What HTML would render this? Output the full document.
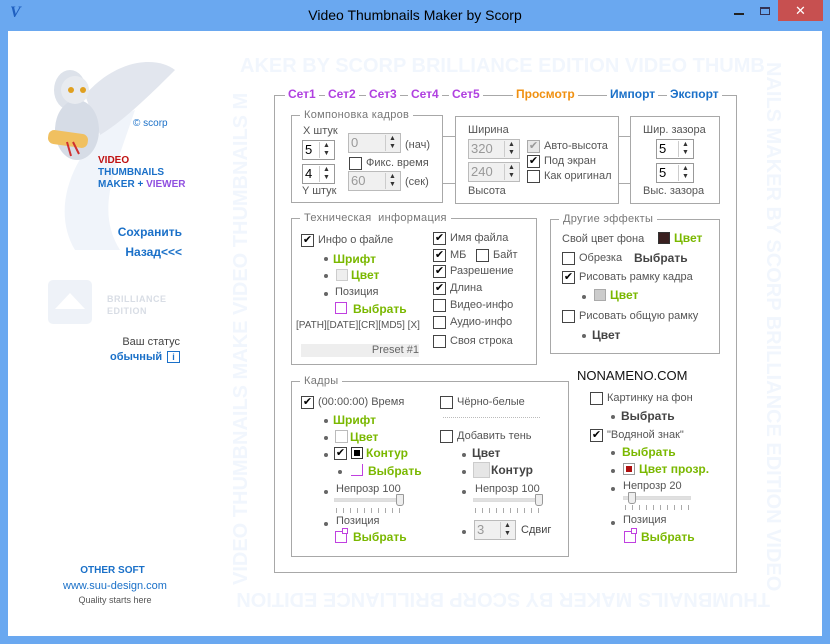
<!DOCTYPE html>
<html><head><meta charset="utf-8"><style>
*{margin:0;padding:0;box-sizing:border-box}
body{width:830px;height:644px;position:relative;overflow:hidden;background:#6aa8f0;font-family:"Liberation Sans","DejaVu Sans",sans-serif;font-size:11px;color:#555}
.a{position:absolute;white-space:nowrap}
#client{position:absolute;left:8px;top:31px;width:814px;height:605px;background:#fff}
.box{position:absolute;border:1px solid #a8a8a8}
.lg{position:absolute;background:#fff;padding:0 4px;color:#777;font-size:11px;top:-7px;left:8px;letter-spacing:.3px}
.cb{position:absolute;width:13px;height:13px;border:1px solid #444;background:#fff;font-size:11px;line-height:11px;text-align:center;color:#000;font-weight:bold}
.cbd{border-color:#aaa;background:#e8e8e8;color:#999}
.sp{position:absolute;height:20px;border:1px solid #999;background:#fff;font-size:13px;color:#000;padding-left:2px;line-height:18px}
.sp.d{background:#f0f0f0;border-color:#bbb;color:#999}
.sp i{position:absolute;right:1px;top:1px;width:14px;height:16px;border-left:1px solid #ccc;font-style:normal;font-size:7px;line-height:8px;text-align:center;color:#333}
.g{color:#7ab800;font-weight:bold;font-size:12px}
.dk{color:#444;font-weight:bold;font-size:12px}
.b{position:absolute;width:4px;height:4px;border-radius:50%;background:#666}
.pi{position:absolute;width:12px;height:12px;border:1px solid #c040e0}
.tab{font-weight:bold;font-size:12px}
.wm{position:absolute;color:#f1f6fd;font-weight:bold;font-size:20px;white-space:nowrap}
.sl{position:absolute;height:4px;background:#e0e0e0;border:1px solid #ddd}
.tk{position:absolute;height:5px;background:repeating-linear-gradient(90deg,#aaa 0 1px,transparent 1px 7px)}
.th{position:absolute;width:8px;height:12px;background:#eee;border:1px solid #999;border-radius:1px 1px 3px 3px}
</style></head><body>
<div class="a" style="left:10px;top:4px;color:#2060c0;font:italic bold 16px 'Liberation Serif',serif">V</div>
<div class="a" style="left:0;width:830px;top:7px;text-align:center;font-size:14px;color:#000">Video Thumbnails Maker by Scorp</div>
<div class="a" style="left:734px;top:13px;width:10px;height:2px;background:#222"></div>
<div class="a" style="left:760px;top:7px;width:10px;height:8px;border:1px solid #335;border-top-width:2px"></div>
<div class="a" style="left:778px;top:0;width:45px;height:21px;background:#c75050;color:#fff;text-align:center;font-size:13px;font-weight:bold;line-height:21px">✕</div>
<div id="client"></div>
<div class="wm" style="left:240px;top:55px">AKER BY SCORP BRILLIANCE EDITION VIDEO THUMB</div>
<div class="wm" style="left:240px;top:588px;transform:rotate(180deg);transform-origin:265px 11px">THUMBNAILS MAKER BY SCORP BRILLIANCE EDITION</div>
<div class="wm" style="left:230px;top:585px;transform:rotate(-90deg);transform-origin:0 0">VIDEO THUMBNAILS MAKE VIDEO THUMBNAILS M</div>
<div class="wm" style="left:784px;top:62px;transform:rotate(90deg);transform-origin:0 0">NAILS MAKER BY SCORP BRILLIANCE EDITION VIDEO</div>
<svg class="a" style="left:25px;top:50px" width="150" height="200"><path d="M50 200 C20 150 60 80 110 60 C90 120 70 160 95 200Z" fill="#f0f4fa"/><ellipse cx="45" cy="40" rx="16" ry="20" fill="#dde2ea"/><path d="M60 45 C90 10 130 5 150 20 C130 40 100 70 75 85Z" fill="#e2e6ee"/><ellipse cx="52" cy="80" rx="22" ry="30" fill="#d6dce6"/><circle cx="50" cy="40" r="14" fill="#e8ebf0"/><circle cx="46" cy="40" r="3" fill="#e0a020"/><circle cx="58" cy="40" r="3" fill="#e0a020"/><rect x="23" y="82" width="40" height="14" rx="6" fill="#f0c060" transform="rotate(8 43 89)"/><path d="M42 92 l4 14 M48 92 l6 12" stroke="#d03030" stroke-width="2"/></svg>
<div class="a" style="left:133px;top:118px;color:#1a70c8;font-size:10px">© scorp</div>
<div class="a" style="left:98px;top:155px;font-size:10px;font-weight:bold;line-height:12px"><span style="color:#c01010">VIDEO</span><br><span style="color:#1a70c8">THUMBNAILS</span><br><span style="color:#1a70c8">MAKER + </span><span style="color:#9050e0">VIEWER</span></div>
<div class="a" style="left:100px;top:225px;width:82px;text-align:right;color:#1a70c8;font-weight:bold;font-size:12px">Сохранить</div>
<div class="a" style="left:100px;top:245px;width:82px;text-align:right;color:#1a70c8;font-weight:bold;font-size:12px">Назад&lt;&lt;&lt;</div>
<div class="a" style="left:48px;top:280px;width:44px;height:44px;background:#eef2f8;border-radius:5px"></div>
<div class="a" style="left:55px;top:293px;width:0;height:0;border-left:15px solid transparent;border-right:15px solid transparent;border-bottom:16px solid #fff"></div>
<div class="a" style="left:107px;top:293px;color:#d8dde5;font-weight:bold;font-size:9px;line-height:12px;letter-spacing:.5px">BRILLIANCE<br>EDITION</div>
<div class="a" style="left:100px;top:336px;width:80px;text-align:right;color:#444;font-size:11px">Ваш статус</div>
<div class="a" style="left:110px;top:351px;color:#1a70c8;font-weight:bold;font-size:11px">обычный</div>
<div class="a" style="left:167px;top:351px;width:13px;height:12px;border:1px solid #1a70c8;color:#1a70c8;font-size:9px;font-weight:bold;text-align:center;line-height:10px">i</div>
<div class="a" style="left:0;width:225px;top:565px;text-align:center;color:#1a70c8;font-weight:bold;font-size:10px">OTHER SOFT</div>
<div class="a" style="left:0;width:230px;top:580px;text-align:center;color:#1a70c8;font-size:11px">www.suu-design.com</div>
<div class="a" style="left:0;width:230px;top:595px;text-align:center;color:#555;font-size:9px">Quality starts here</div>
<div class="box" style="left:274px;top:95px;width:463px;height:478px"></div>
<div class="a tab" style="left:285px;top:87px;background:#fff;padding:0 3px;color:#b040e0">Сет1</div>
<div class="a tab" style="left:325px;top:87px;background:#fff;padding:0 3px;color:#b040e0">Сет2</div>
<div class="a tab" style="left:366px;top:87px;background:#fff;padding:0 3px;color:#b040e0">Сет3</div>
<div class="a tab" style="left:408px;top:87px;background:#fff;padding:0 3px;color:#b040e0">Сет4</div>
<div class="a tab" style="left:449px;top:87px;background:#fff;padding:0 3px;color:#b040e0">Сет5</div>
<div class="a tab" style="left:513px;top:87px;background:#fff;padding:0 3px;color:#f09010">Просмотр</div>
<div class="a tab" style="left:607px;top:87px;background:#fff;padding:0 3px;color:#1a70c8">Импорт</div>
<div class="a tab" style="left:667px;top:87px;background:#fff;padding:0 3px;color:#1a70c8">Экспорт</div>
<div class="a" style="left:442px;top:136px;width:13px;border-top:1px solid #aaa"></div>
<div class="a" style="left:442px;top:183px;width:13px;border-top:1px solid #aaa"></div>
<div class="a" style="left:618px;top:136px;width:12px;border-top:1px solid #aaa"></div>
<div class="a" style="left:618px;top:183px;width:12px;border-top:1px solid #aaa"></div>
<div class="box" style="left:291px;top:115px;width:152px;height:88px"><div class="lg">Компоновка кадров</div></div>
<div class="a" style="left:303px;top:125px">X штук</div>
<div class="sp" style="left:302px;top:140px;width:33px">5<i>▲<br>▼</i></div>
<div class="sp" style="left:302px;top:164px;width:33px">4<i>▲<br>▼</i></div>
<div class="a" style="left:302px;top:185px">Y штук</div>
<div class="sp d" style="left:348px;top:133px;width:53px">0<i>▲<br>▼</i></div>
<div class="a" style="left:405px;top:139px">(нач)</div>
<div class="cb" style="left:349px;top:157px"></div><div class="a" style="left:366px;top:157px">Фикс. время</div>
<div class="sp d" style="left:348px;top:171px;width:53px">60<i>▲<br>▼</i></div>
<div class="a" style="left:405px;top:176px">(сек)</div>
<div class="box" style="left:455px;top:116px;width:164px;height:88px"></div>
<div class="a" style="left:468px;top:124px">Ширина</div>
<div class="sp d" style="left:468px;top:139px;width:52px">320<i>▲<br>▼</i></div>
<div class="sp d" style="left:468px;top:162px;width:52px">240<i>▲<br>▼</i></div>
<div class="a" style="left:468px;top:185px">Высота</div>
<div class="cb cbd" style="left:527px;top:140px">✔</div><div class="a" style="left:544px;top:140px">Авто-высота</div>
<div class="cb" style="left:527px;top:155px">✔</div><div class="a" style="left:544px;top:155px">Под экран</div>
<div class="cb" style="left:527px;top:170px"></div><div class="a" style="left:544px;top:170px">Как оригинал</div>
<div class="box" style="left:630px;top:116px;width:90px;height:88px"></div>
<div class="a" style="left:643px;top:124px">Шир. зазора</div>
<div class="sp" style="left:656px;top:139px;width:38px">5<i>▲<br>▼</i></div>
<div class="sp" style="left:656px;top:163px;width:38px">5<i>▲<br>▼</i></div>
<div class="a" style="left:643px;top:185px">Выс. зазора</div>
<div class="box" style="left:291px;top:218px;width:246px;height:147px"><div class="lg">Техническая &nbsp;информация</div></div>
<div class="cb" style="left:301px;top:234px">✔</div><div class="a" style="left:318px;top:234px">Инфо о файле</div>
<div class="b" style="left:324px;top:257px"></div><div class="a g" style="left:333px;top:252px">Шрифт</div>
<div class="b" style="left:324px;top:274px"></div><div class="a" style="left:336px;top:269px;width:12px;height:12px;border:1px solid #ccc;background:#eee"></div><div class="a g" style="left:351px;top:268px">Цвет</div>
<div class="b" style="left:324px;top:292px"></div><div class="a" style="left:335px;top:286px">Позиция</div>
<div class="pi" style="left:335px;top:302px"></div><div class="a g" style="left:353px;top:302px">Выбрать</div>
<div class="a" style="left:296px;top:320px;font-size:10px">[PATH][DATE][CR][MD5] [X]</div>
<div class="a" style="left:301px;top:344px;width:118px;height:13px;background:#eee;text-align:right;font-size:11px;color:#666;line-height:13px">Preset #1</div>
<div class="cb" style="left:433px;top:232px">✔</div><div class="a" style="left:450px;top:232px">Имя файла</div>
<div class="cb" style="left:433px;top:249px">✔</div><div class="a" style="left:450px;top:249px">МБ</div>
<div class="cb" style="left:476px;top:249px"></div><div class="a" style="left:493px;top:249px">Байт</div>
<div class="cb" style="left:433px;top:265px">✔</div><div class="a" style="left:450px;top:265px">Разрешение</div>
<div class="cb" style="left:433px;top:282px">✔</div><div class="a" style="left:450px;top:282px">Длина</div>
<div class="cb" style="left:433px;top:299px"></div><div class="a" style="left:450px;top:299px">Видео-инфо</div>
<div class="cb" style="left:433px;top:316px"></div><div class="a" style="left:450px;top:316px">Аудио-инфо</div>
<div class="cb" style="left:433px;top:335px"></div><div class="a" style="left:450px;top:335px">Своя строка</div>
<div class="box" style="left:550px;top:219px;width:170px;height:135px"><div class="lg">Другие эффекты</div></div>
<div class="a" style="left:562px;top:233px">Свой цвет фона</div>
<div class="a" style="left:658px;top:232px;width:12px;height:12px;border:1px solid #333;background:#3a2020"></div><div class="a g" style="left:674px;top:231px">Цвет</div>
<div class="cb" style="left:562px;top:252px"></div><div class="a" style="left:579px;top:252px">Обрезка</div><div class="a dk" style="left:634px;top:251px">Выбрать</div>
<div class="cb" style="left:562px;top:271px">✔</div><div class="a" style="left:579px;top:271px">Рисовать рамку кадра</div>
<div class="b" style="left:582px;top:295px"></div><div class="a" style="left:594px;top:289px;width:12px;height:12px;border:1px solid #aaa;background:#ccc"></div><div class="a g" style="left:610px;top:288px">Цвет</div>
<div class="cb" style="left:562px;top:310px"></div><div class="a" style="left:579px;top:310px">Рисовать общую рамку</div>
<div class="b" style="left:582px;top:334px"></div><div class="a dk" style="left:592px;top:328px">Цвет</div>
<div class="box" style="left:291px;top:381px;width:278px;height:176px"><div class="lg">Кадры</div></div>
<div class="cb" style="left:301px;top:396px">✔</div><div class="a" style="left:318px;top:396px">(00:00:00) Время</div>
<div class="b" style="left:324px;top:419px"></div><div class="a g" style="left:333px;top:413px">Шрифт</div>
<div class="b" style="left:324px;top:436px"></div><div class="a" style="left:335px;top:430px;width:13px;height:13px;border:1px solid #bbb"></div><div class="a g" style="left:350px;top:430px">Цвет</div>
<div class="b" style="left:324px;top:453px"></div><div class="cb" style="left:334px;top:447px">✔</div><div class="a" style="left:351px;top:447px;width:12px;height:12px;border:1px solid #333;background:#000;box-shadow:inset 0 0 0 2px #fff"></div><div class="a g" style="left:366px;top:446px">Контур</div>
<div class="b" style="left:338px;top:470px"></div><div class="a" style="left:351px;top:464px;width:12px;height:12px;border-right:1px solid #c040e0;border-bottom:1px solid #c040e0"></div><div class="a g" style="left:368px;top:464px">Выбрать</div>
<div class="b" style="left:324px;top:490px"></div><div class="a" style="left:336px;top:483px">Непрозр 100</div>
<div class="sl" style="left:334px;top:498px;width:68px"></div><div class="th" style="left:396px;top:494px"></div>
<div class="tk" style="left:336px;top:508px;width:66px"></div>
<div class="b" style="left:324px;top:522px"></div><div class="a" style="left:336px;top:515px">Позиция</div>
<div class="pi" style="left:335px;top:531px"></div><div class="a" style="left:342px;top:528px;width:6px;height:6px;border:1px solid #c040e0;background:#fff"></div><div class="a g" style="left:353px;top:530px">Выбрать</div>
<div class="cb" style="left:440px;top:396px"></div><div class="a" style="left:457px;top:396px">Чёрно-белые</div>
<div class="a" style="left:443px;top:417px;width:97px;border-top:1px dotted #bbb"></div>
<div class="cb" style="left:440px;top:430px"></div><div class="a" style="left:457px;top:430px">Добавить тень</div>
<div class="b" style="left:462px;top:453px"></div><div class="a dk" style="left:472px;top:446px">Цвет</div>
<div class="b" style="left:462px;top:470px"></div><div class="a" style="left:473px;top:462px;width:17px;height:16px;border:1px solid #ccc;background:#e6e6e6"></div><div class="a dk" style="left:491px;top:463px">Контур</div>
<div class="b" style="left:462px;top:490px"></div><div class="a" style="left:475px;top:483px">Непрозр 100</div>
<div class="sl" style="left:473px;top:498px;width:69px"></div><div class="th" style="left:535px;top:494px"></div>
<div class="tk" style="left:475px;top:508px;width:67px"></div>
<div class="b" style="left:462px;top:530px"></div>
<div class="sp d" style="left:474px;top:520px;width:42px">3<i>▲<br>▼</i></div>
<div class="a" style="left:521px;top:524px;color:#444">Сдвиг</div>
<div class="a" style="left:577px;top:368px;font-size:13px;color:#111">NONAMENO.COM</div>
<div class="cb" style="left:590px;top:392px"></div><div class="a" style="left:607px;top:392px">Картинку на фон</div>
<div class="b" style="left:611px;top:415px"></div><div class="a dk" style="left:621px;top:409px">Выбрать</div>
<div class="cb" style="left:590px;top:429px">✔</div><div class="a" style="left:607px;top:429px">"Водяной знак"</div>
<div class="b" style="left:611px;top:451px"></div><div class="a g" style="left:622px;top:445px">Выбрать</div>
<div class="b" style="left:611px;top:469px"></div><div class="a" style="left:623px;top:463px;width:12px;height:12px;border:1px solid #999;background:#b01010;box-shadow:inset 0 0 0 2px #fff"></div><div class="a g" style="left:639px;top:462px">Цвет прозр.</div>
<div class="b" style="left:611px;top:487px"></div><div class="a" style="left:623px;top:480px">Непрозр 20</div>
<div class="sl" style="left:623px;top:496px;width:68px"></div><div class="th" style="left:628px;top:492px"></div>
<div class="tk" style="left:625px;top:505px;width:66px"></div>
<div class="b" style="left:611px;top:521px"></div><div class="a" style="left:623px;top:514px">Позиция</div>
<div class="pi" style="left:624px;top:531px"></div><div class="a" style="left:631px;top:528px;width:6px;height:6px;border:1px solid #c040e0;background:#fff"></div><div class="a g" style="left:641px;top:530px">Выбрать</div>
</body></html>
